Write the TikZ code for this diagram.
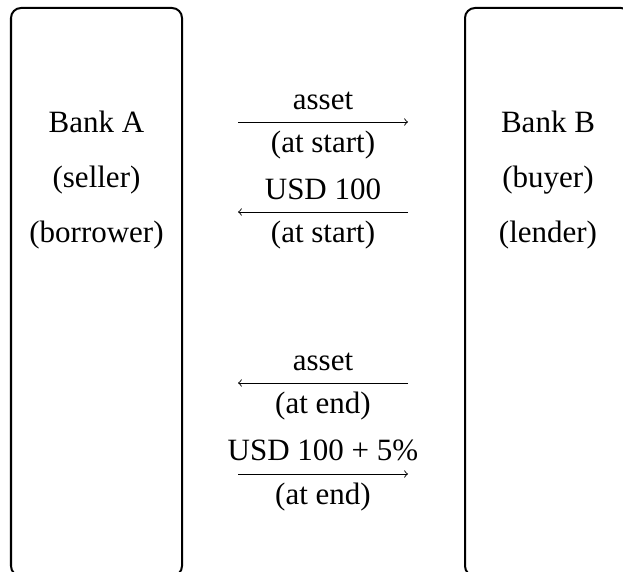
\documentclass[tikz,border=0pt]{standalone}
\usepackage{fontspec}
\setmainfont{Liberation Serif}
\begin{document}
\begin{tikzpicture}[x=0.5pt,y=-0.5pt,
  bankbox/.style={draw, line width=1pt, rounded corners=5pt, inner sep=0pt},
  txt/.style={anchor=base, inner sep=0pt, font=\fontsize{15.5}{18}\selectfont},
  flow/.style={->, line width=0.45pt}]
\useasboundingbox (0,0) rectangle (623,572);
\node[bankbox, minimum width=85.5pt, minimum height=284pt] (A) at (96.5,292) {};
\node[bankbox, minimum width=83pt, minimum height=284pt] (B) at (548,292) {};
\node[txt] (a1) at (96.5,133) {Bank A};
\node[txt] (a2) at (96.5,188) {(seller)};
\node[txt] (a3) at (96.5,243) {(borrower)};
\node[txt] (b1) at (548,133) {Bank B};
\node[txt] (b2) at (548,188) {(buyer)};
\node[txt] (b3) at (548,243) {(lender)};
% arrows
\coordinate (s1) at (238,122); \coordinate (e1) at (408,122);
\coordinate (s2) at (408,212); \coordinate (e2) at (238,212);
\coordinate (s3) at (408,383); \coordinate (e3) at (238,383);
\coordinate (s4) at (238,474); \coordinate (e4) at (408,474);
\draw[flow] (s1) -- (e1);
\draw[flow] (s2) -- (e2);
\draw[flow] (s3) -- (e3);
\draw[flow] (s4) -- (e4);
\node[txt] (l1) at (323,110) {asset};
\node[txt] (l2) at (323,153) {(at start)};
\node[txt] (l3) at (323,200) {USD 100};
\node[txt] (l4) at (323,243) {(at start)};
\node[txt] (l5) at (323,371) {asset};
\node[txt] (l6) at (323,414) {(at end)};
\node[txt] (l7) at (323,461) {USD 100 + 5\%};
\node[txt] (l8) at (323,505) {(at end)};
\end{tikzpicture}
\end{document}
